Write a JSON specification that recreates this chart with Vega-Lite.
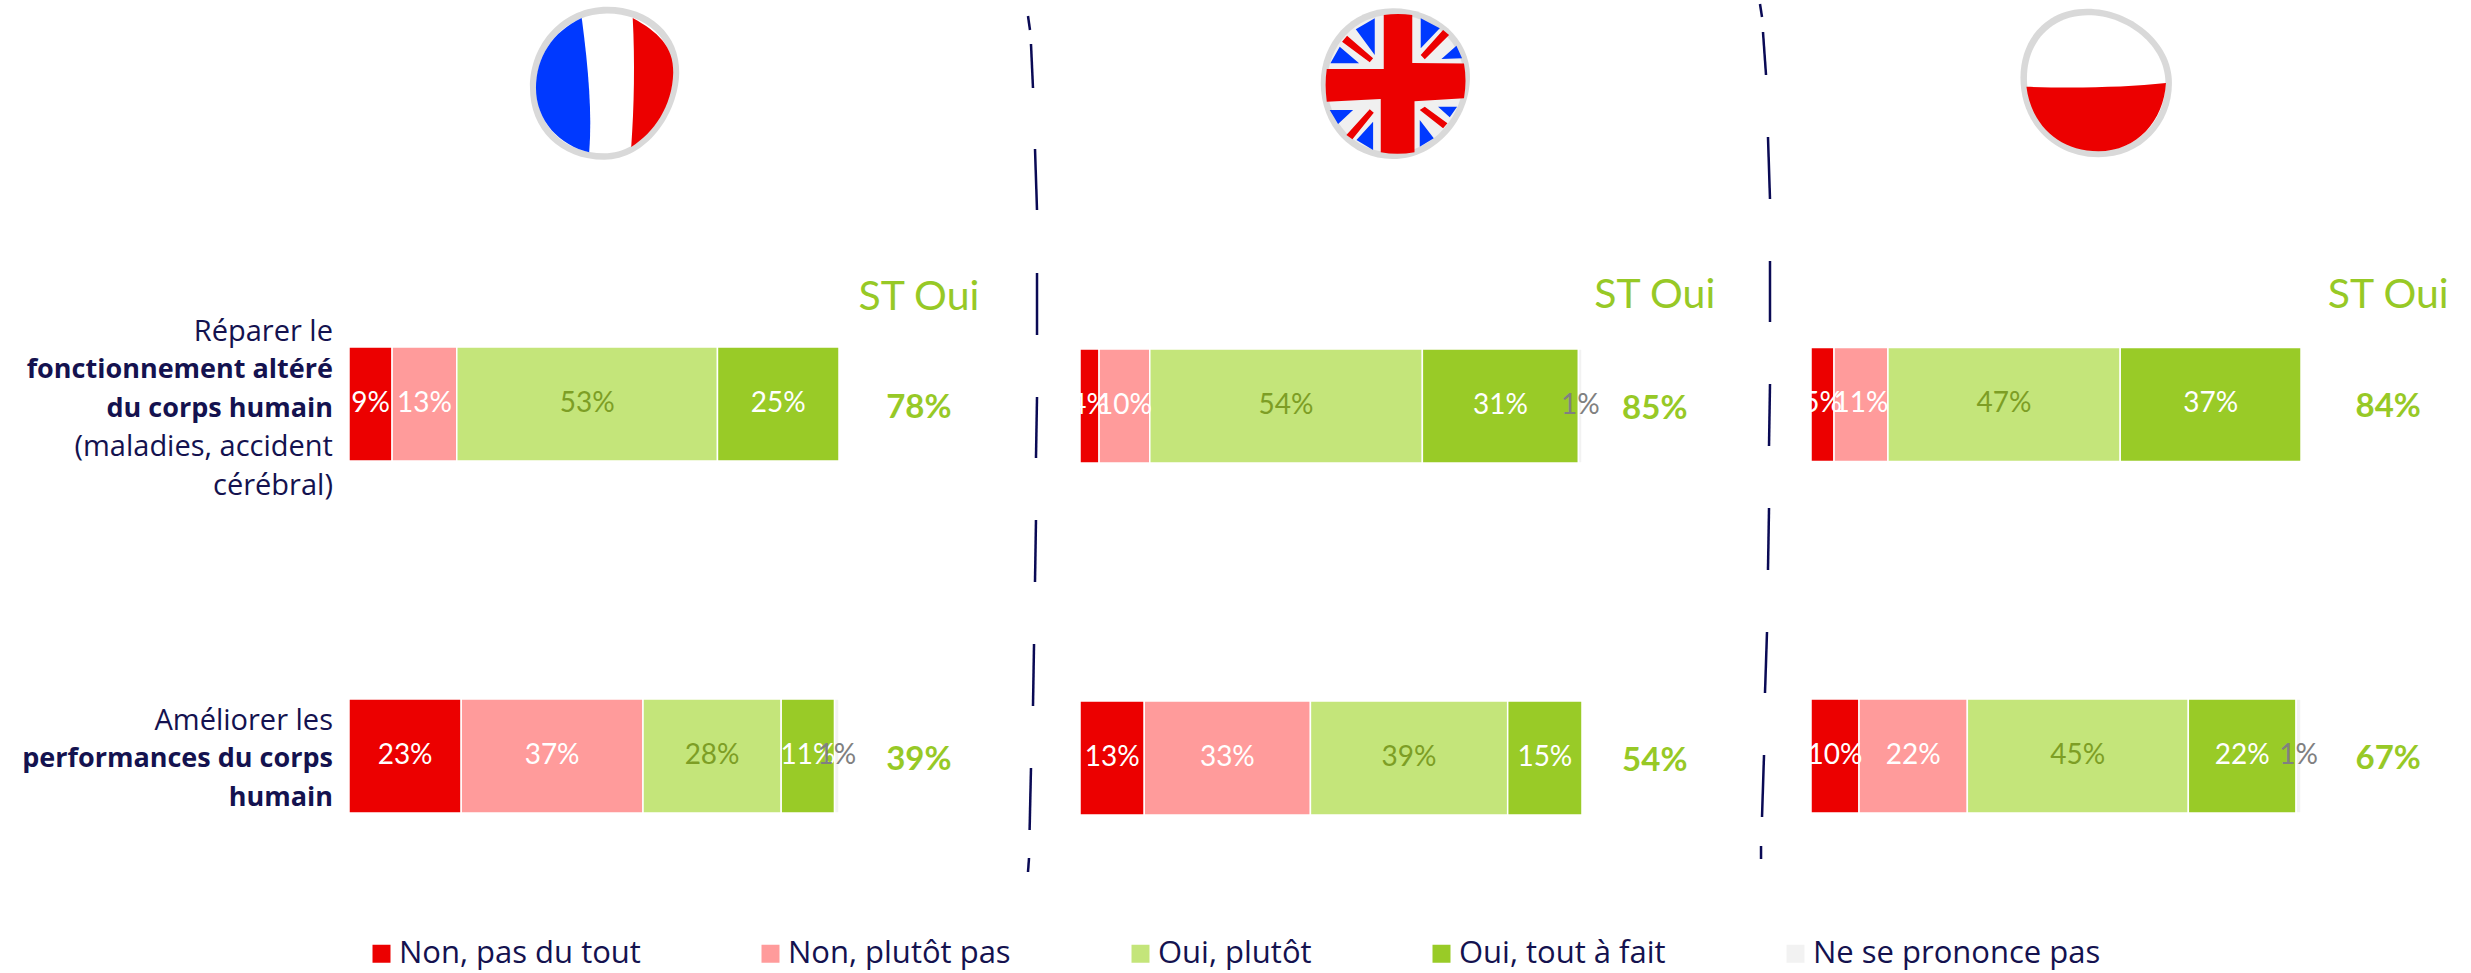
{
"$schema":"https://vega.github.io/schema/vega-lite/v6.json",
"padding":0,"autosize":{"type":"pad"},"spacing":0,"bounds":"flush",
"background":"white",
"config":{"view":{"stroke":null},"axis":{"disable":true},"font":"Lato"},
"datasets":{
"bars":[
{"country":"France","question":"Réparer","category":"Non, pas du tout","rank":1,"value":0.088},
{"country":"France","question":"Réparer","category":"Non, plutôt pas","rank":2,"value":0.132},
{"country":"France","question":"Réparer","category":"Oui, plutôt","rank":3,"value":0.532},
{"country":"France","question":"Réparer","category":"Oui, tout à fait","rank":4,"value":0.248},
{"country":"France","question":"Améliorer","category":"Non, pas du tout","rank":1,"value":0.229},
{"country":"France","question":"Améliorer","category":"Non, plutôt pas","rank":2,"value":0.371},
{"country":"France","question":"Améliorer","category":"Oui, plutôt","rank":3,"value":0.282},
{"country":"France","question":"Améliorer","category":"Oui, tout à fait","rank":4,"value":0.109},
{"country":"France","question":"Améliorer","category":"Ne se prononce pas","rank":5,"value":0.009},
{"country":"UK","question":"Réparer","category":"Non, pas du tout","rank":1,"value":0.038},
{"country":"UK","question":"Réparer","category":"Non, plutôt pas","rank":2,"value":0.101},
{"country":"UK","question":"Réparer","category":"Oui, plutôt","rank":3,"value":0.543},
{"country":"UK","question":"Réparer","category":"Oui, tout à fait","rank":4,"value":0.311},
{"country":"UK","question":"Réparer","category":"Ne se prononce pas","rank":5,"value":0.007},
{"country":"UK","question":"Améliorer","category":"Non, pas du tout","rank":1,"value":0.128},
{"country":"UK","question":"Améliorer","category":"Non, plutôt pas","rank":2,"value":0.331},
{"country":"UK","question":"Améliorer","category":"Oui, plutôt","rank":3,"value":0.393},
{"country":"UK","question":"Améliorer","category":"Oui, tout à fait","rank":4,"value":0.148},
{"country":"Pologne","question":"Réparer","category":"Non, pas du tout","rank":1,"value":0.047},
{"country":"Pologne","question":"Réparer","category":"Non, plutôt pas","rank":2,"value":0.11},
{"country":"Pologne","question":"Réparer","category":"Oui, plutôt","rank":3,"value":0.474},
{"country":"Pologne","question":"Réparer","category":"Oui, tout à fait","rank":4,"value":0.369},
{"country":"Pologne","question":"Améliorer","category":"Non, pas du tout","rank":1,"value":0.098},
{"country":"Pologne","question":"Améliorer","category":"Non, plutôt pas","rank":2,"value":0.221},
{"country":"Pologne","question":"Améliorer","category":"Oui, plutôt","rank":3,"value":0.451},
{"country":"Pologne","question":"Améliorer","category":"Oui, tout à fait","rank":4,"value":0.22},
{"country":"Pologne","question":"Améliorer","category":"Ne se prononce pas","rank":5,"value":0.01}
],
"totals":[
{"country":"France","question":"Réparer","total":0.78},
{"country":"France","question":"Améliorer","total":0.39},
{"country":"UK","question":"Réparer","total":0.85},
{"country":"UK","question":"Améliorer","total":0.54},
{"country":"Pologne","question":"Réparer","total":0.84},
{"country":"Pologne","question":"Améliorer","total":0.67}
],
"sep1":[
{"a":1.3857,"b":1.3898,"top":16,"end":30},
{"a":1.3918,"b":1.3959,"top":44,"end":88},
{"a":1.4,"b":1.4041,"top":149,"end":210},
{"a":1.4041,"b":1.4041,"top":273,"end":335},
{"a":1.4041,"b":1.402,"top":397,"end":458},
{"a":1.402,"b":1.4,"top":520,"end":582},
{"a":1.398,"b":1.3959,"top":644,"end":706},
{"a":1.3918,"b":1.389,"top":768,"end":830},
{"a":1.3878,"b":1.3857,"top":858,"end":872}
],
"sep2":[
{"a":-0.1041,"b":-0.1,"top":4,"end":17},
{"a":-0.098,"b":-0.0918,"top":32,"end":75},
{"a":-0.0878,"b":-0.0837,"top":137,"end":199},
{"a":-0.0837,"b":-0.0837,"top":261,"end":322},
{"a":-0.0837,"b":-0.0857,"top":384,"end":446},
{"a":-0.0857,"b":-0.0878,"top":508,"end":570},
{"a":-0.0898,"b":-0.0939,"top":632,"end":693},
{"a":-0.0959,"b":-0.1,"top":755,"end":817},
{"a":-0.102,"b":-0.102,"top":846,"end":859}
],
"one":[{"n":1}]
},
"resolve":{"scale":{"color":"independent"},"legend":{"color":"independent"}},
"hconcat":[
{"width":1040,"height":973,
 "resolve":{"scale":{"y":"independent"}},
 "layer":[
 {"transform":[{"filter":"datum.country==='France'"}],"data":{"name":"bars"},"layer":[
  {"mark":{"type":"bar","stroke":"white","strokeWidth":1.5},
   "encoding":{
    "x":{"field":"value","type":"quantitative","stack":"zero","axis":null,"scale":{"domain":[-0.7122,1.4102],"nice":false,"zero":false}},
    "y":{"field":"question","type":"nominal","axis":null,"sort":["Réparer","Améliorer"],"scale":{"type":"band","domain":["Réparer","Améliorer"],"range":[347,813],"paddingInner":0.676,"paddingOuter":0}},
    "order":{"field":"rank"},
    "color":{"field":"category","type":"nominal","scale":{"domain":["Non, pas du tout","Non, plutôt pas","Oui, plutôt","Oui, tout à fait","Ne se prononce pas"],"range":["#ec0000","#ff9b9b","#c4e57a","#99cb27","#f2f2f2"]},
     "legend":{"orient":"none","legendX":366,"legendY":938,"direction":"horizontal","columns":5,"title":null,"symbolType":"square","symbolSize":324,"symbolStrokeWidth":0,"labelFont":"Open Sans","labelFontSize":31,"labelColor":"#14124f","labelLimit":400,"labelOffset":2,"columnPadding":114}}
   }},
  {"mark":{"type":"text","fontSize":28},
   "encoding":{
    "x":{"field":"value","type":"quantitative","stack":"zero","bandPosition":0.5},
    "y":{"field":"question","type":"nominal","sort":["Réparer","Améliorer"]},
    "order":{"field":"rank"},"detail":{"field":"category"},
    "text":{"field":"value","type":"quantitative","format":".0%"},
    "color":{"condition":[{"test":"datum.category==='Oui, plutôt'","value":"#7d9e25"},{"test":"datum.category==='Ne se prononce pas'","value":"#808080"}],"value":"white"}
   }},
  {"data":{"name":"totals"},"transform":[{"filter":"datum.country==='France'"}],
   "mark":{"type":"text","fontSize":33,"fontWeight":"bold","color":"#97c926","dy":4},
   "encoding":{"x":{"datum":1.163},"y":{"field":"question","type":"nominal","sort":["Réparer","Améliorer"]},"text":{"field":"total","type":"quantitative","format":".0%"}}}
 ]},
 {"data":{"name":"one"},"layer":[
  {"mark":{"type":"text","text":"ST Oui","fontSize":41,"color":"#97c926"},"encoding":{"x":{"datum":1.163},"y":{"datum":298,"scale":{"domain":[973,0],"nice":false,"zero":false},"axis":null}}},
  {"mark":{"type":"text","text":"Réparer le","fontSize":29,"font":"Open Sans","align":"right","color":"#14124f"},"encoding":{"x":{"datum":-0.0327},"y":{"datum":332}}},
  {"mark":{"type":"text","text":["fonctionnement altéré","du corps humain"],"lineHeight":38.5,"fontSize":27,"font":"Open Sans","fontWeight":"bold","align":"right","color":"#14124f"},"encoding":{"x":{"datum":-0.0327},"y":{"datum":370}}},
  {"mark":{"type":"text","text":["(maladies, accident","cérébral)"],"lineHeight":38.5,"fontSize":29,"font":"Open Sans","align":"right","color":"#14124f"},"encoding":{"x":{"datum":-0.0327},"y":{"datum":447}}},
  {"mark":{"type":"text","text":"Améliorer les","fontSize":29,"font":"Open Sans","align":"right","color":"#14124f"},"encoding":{"x":{"datum":-0.0327},"y":{"datum":721}}},
  {"mark":{"type":"text","text":["performances du corps","humain"],"lineHeight":38.5,"fontSize":27,"font":"Open Sans","fontWeight":"bold","align":"right","color":"#14124f"},"encoding":{"x":{"datum":-0.0327},"y":{"datum":759}}},
  {"mark":{"type":"point","filled":true,"opacity":1,"size":22500,"color":"#d9d9d9","shape":"M0.03,-1.03 C0.6,-1.03 1,-0.65 0.99,-0.15 C0.98,0.4 0.55,1.01 -0.01,1.01 C-0.6,1.01 -1,0.6 -1,0.05 C-1,-0.55 -0.55,-1.03 0.03,-1.03 Z"},"encoding":{"x":{"datum":0.5224},"y":{"datum":84}}},
  {"mark":{"type":"point","filled":true,"opacity":1,"size":18800,"color":"#ffffff","shape":"M0.03,-1.03 C0.6,-1.03 1,-0.65 0.99,-0.15 C0.98,0.4 0.55,1.01 -0.01,1.01 C-0.6,1.01 -1,0.6 -1,0.05 C-1,-0.55 -0.55,-1.03 0.03,-1.03 Z"},"encoding":{"x":{"datum":0.5224},"y":{"datum":84}}},
  {"mark":{"type":"point","filled":true,"opacity":1,"size":22500,"color":"#0039ff","shape":"M-0.31,-0.88 C-0.7,-0.7 -0.92,-0.35 -0.92,0.05 C-0.92,0.5 -0.6,0.82 -0.21,0.91 C-0.17,0.4 -0.22,-0.2 -0.31,-0.88 Z"},"encoding":{"x":{"datum":0.5224},"y":{"datum":84}}},
  {"mark":{"type":"point","filled":true,"opacity":1,"size":22500,"color":"#ec0000","shape":"M0.37,-0.88 C0.7,-0.7 0.92,-0.5 0.91,-0.15 C0.9,0.3 0.65,0.65 0.35,0.84 C0.39,0.3 0.4,-0.3 0.37,-0.88 Z"},"encoding":{"x":{"datum":0.5224},"y":{"datum":84}}}
 ]},
 {"data":{"name":"sep1"},"mark":{"type":"rule","color":"#0a0a55","strokeWidth":2.5},
  "encoding":{"x":{"field":"a","type":"quantitative"},"x2":{"field":"b"},"y":{"field":"top","type":"quantitative","axis":null,"scale":{"domain":[973,0],"nice":false,"zero":false}},"y2":{"field":"end"}}}
 ]},
{"width":710,"height":973,
 "resolve":{"scale":{"y":"independent"}},
 "layer":[
 {"transform":[{"filter":"datum.country==='UK'"}],"data":{"name":"bars"},"layer":[
  {"mark":{"type":"bar","stroke":"white","strokeWidth":1.5},
   "encoding":{
    "x":{"field":"value","type":"quantitative","stack":"zero","axis":null,"scale":{"domain":[-0.0797,1.3347],"nice":false,"zero":false}},
    "y":{"field":"question","type":"nominal","axis":null,"sort":["Réparer","Améliorer"],"scale":{"type":"band","domain":["Réparer","Améliorer"],"range":[349,815],"paddingInner":0.676,"paddingOuter":0}},
    "order":{"field":"rank"},
    "color":{"field":"category","type":"nominal","legend":null,"scale":{"domain":["Non, pas du tout","Non, plutôt pas","Oui, plutôt","Oui, tout à fait","Ne se prononce pas"],"range":["#ec0000","#ff9b9b","#c4e57a","#99cb27","#f2f2f2"]}}
   }},
  {"mark":{"type":"text","fontSize":28},
   "encoding":{
    "x":{"field":"value","type":"quantitative","stack":"zero","bandPosition":0.5},
    "y":{"field":"question","type":"nominal","sort":["Réparer","Améliorer"]},
    "order":{"field":"rank"},"detail":{"field":"category"},
    "text":{"field":"value","type":"quantitative","format":".0%"},
    "color":{"condition":[{"test":"datum.category==='Oui, plutôt'","value":"#7d9e25"},{"test":"datum.category==='Ne se prononce pas'","value":"#808080"}],"value":"white"}
   }},
  {"data":{"name":"totals"},"transform":[{"filter":"datum.country==='UK'"}],
   "mark":{"type":"text","fontSize":33,"fontWeight":"bold","color":"#97c926","dy":3},
   "encoding":{"x":{"datum":1.145},"y":{"field":"question","type":"nominal","sort":["Réparer","Améliorer"]},"text":{"field":"total","type":"quantitative","format":".0%"}}}
 ]},
 {"data":{"name":"one"},"layer":[
  {"mark":{"type":"text","text":"ST Oui","fontSize":41,"color":"#97c926"},"encoding":{"x":{"datum":1.145},"y":{"datum":296,"axis":null,"scale":{"domain":[973,0],"nice":false,"zero":false}}}},
  {"mark":{"type":"point","filled":true,"opacity":1,"size":22500,"color":"#d9d9d9","shape":"M-0.04,-1.01 C0.55,-1.01 0.99,-0.6 0.99,-0.1 C0.99,0.45 0.55,1 -0.04,1 C-0.6,1 -1,0.55 -1,-0.01 C-1,-0.55 -0.6,-1.01 -0.04,-1.01 Z"},"encoding":{"x":{"datum":0.629},"y":{"datum":84}}},
  {"mark":{"type":"point","filled":true,"opacity":1,"size":18800,"color":"#f0f0f0","shape":"M-0.04,-1.01 C0.55,-1.01 0.99,-0.6 0.99,-0.1 C0.99,0.45 0.55,1 -0.04,1 C-0.6,1 -1,0.55 -1,-0.01 C-1,-0.55 -0.6,-1.01 -0.04,-1.01 Z"},"encoding":{"x":{"datum":0.629},"y":{"datum":84}}},
  {"mark":{"type":"point","filled":true,"opacity":1,"size":22500,"color":"#0039ff","shape":"M-0.533,-0.729 L-0.28,-0.876 L-0.28,-0.387 Z M-0.871,-0.276 L-0.747,-0.498 L-0.489,-0.276 Z M0.333,-0.876 L0.587,-0.742 L0.333,-0.476 Z M0.609,-0.333 L0.809,-0.511 L0.884,-0.342 Z M-0.88,0.347 L-0.569,0.347 L-0.769,0.533 Z M-0.524,0.747 L-0.302,0.502 L-0.302,0.88 Z M0.32,0.48 L0.507,0.724 L0.32,0.836 Z M0.564,0.302 L0.818,0.302 L0.72,0.444 Z"},"encoding":{"x":{"datum":0.629},"y":{"datum":84}}},
  {"mark":{"type":"point","filled":true,"opacity":1,"size":22500,"color":"#ec0000","shape":"M-0.716,-0.564 L-0.649,-0.644 L-0.302,-0.342 L-0.347,-0.289 Z M0.333,-0.387 L0.631,-0.72 L0.711,-0.653 L0.387,-0.329 Z M-0.658,0.68 L-0.347,0.338 L-0.293,0.382 L-0.578,0.738 Z M0.32,0.347 L0.387,0.302 L0.689,0.524 L0.631,0.591 Z M-0.16,-0.92 Q0.03,-0.95 0.22,-0.92 L0.22,-0.28 L0.91,-0.275 Q0.95,-0.05 0.91,0.19 L0.25,0.23 L0.25,0.91 Q0.02,0.95 -0.2,0.91 L-0.2,0.2 L-0.92,0.235 Q-0.95,0 -0.92,-0.2 L-0.16,-0.2 Z"},"encoding":{"x":{"datum":0.629},"y":{"datum":84}}}
 ]}
 ]},
{"width":721,"height":973,
 "resolve":{"scale":{"y":"independent"}},
 "layer":[
 {"transform":[{"filter":"datum.country==='Pologne'"}],"data":{"name":"bars"},"layer":[
  {"mark":{"type":"bar","stroke":"white","strokeWidth":1.5},
   "encoding":{
    "x":{"field":"value","type":"quantitative","stack":"zero","axis":null,"scale":{"domain":[-0.1245,1.3469],"nice":false,"zero":false}},
    "y":{"field":"question","type":"nominal","axis":null,"sort":["Réparer","Améliorer"],"scale":{"type":"band","domain":["Réparer","Améliorer"],"range":[347.5,813],"paddingInner":0.676,"paddingOuter":0}},
    "order":{"field":"rank"},
    "color":{"field":"category","type":"nominal","legend":null,"scale":{"domain":["Non, pas du tout","Non, plutôt pas","Oui, plutôt","Oui, tout à fait","Ne se prononce pas"],"range":["#ec0000","#ff9b9b","#c4e57a","#99cb27","#f2f2f2"]}}
   }},
  {"mark":{"type":"text","fontSize":28},
   "encoding":{
    "x":{"field":"value","type":"quantitative","stack":"zero","bandPosition":0.5},
    "y":{"field":"question","type":"nominal","sort":["Réparer","Améliorer"]},
    "order":{"field":"rank"},"detail":{"field":"category"},
    "text":{"field":"value","type":"quantitative","format":".0%"},
    "color":{"condition":[{"test":"datum.category==='Oui, plutôt'","value":"#7d9e25"},{"test":"datum.category==='Ne se prononce pas'","value":"#808080"}],"value":"white"}
   }},
  {"data":{"name":"totals"},"transform":[{"filter":"datum.country==='Pologne'"}],
   "mark":{"type":"text","fontSize":33,"fontWeight":"bold","color":"#97c926","dy":3},
   "encoding":{"x":{"datum":1.178},"y":{"field":"question","type":"nominal","sort":["Réparer","Améliorer"]},"text":{"field":"total","type":"quantitative","format":".0%"}}}
 ]},
 {"data":{"name":"one"},"layer":[
  {"mark":{"type":"text","text":"ST Oui","fontSize":41,"color":"#97c926"},"encoding":{"x":{"datum":1.178},"y":{"datum":296,"axis":null,"scale":{"domain":[973,0],"nice":false,"zero":false}}}},
  {"mark":{"type":"point","filled":true,"opacity":1,"size":22500,"color":"#d9d9d9","shape":"M-0.12,-0.99 C0.45,-0.99 1.01,-0.55 1.01,0 C1.01,0.55 0.6,0.99 0.03,0.99 C-0.55,0.99 -1.01,0.55 -1.01,-0.07 C-1.01,-0.6 -0.65,-0.99 -0.12,-0.99 Z"},"encoding":{"x":{"datum":0.582},"y":{"datum":83}}},
  {"mark":{"type":"point","filled":true,"opacity":1,"size":18800,"color":"#ffffff","shape":"M-0.12,-0.99 C0.45,-0.99 1.01,-0.55 1.01,0 C1.01,0.55 0.6,0.99 0.03,0.99 C-0.55,0.99 -1.01,0.55 -1.01,-0.07 C-1.01,-0.6 -0.65,-0.99 -0.12,-0.99 Z"},"encoding":{"x":{"datum":0.582},"y":{"datum":83}}},
  {"mark":{"type":"point","filled":true,"opacity":1,"size":22500,"color":"#ec0000","shape":"M-0.93,0.05 C-0.3,0.07 0.4,0.06 0.93,0 C0.9,0.5 0.55,0.91 0.03,0.91 C-0.5,0.91 -0.87,0.55 -0.93,0.05 Z"},"encoding":{"x":{"datum":0.582},"y":{"datum":83}}}
 ]},
 {"data":{"name":"sep2"},"mark":{"type":"rule","color":"#0a0a55","strokeWidth":2.5},
  "encoding":{"x":{"field":"a","type":"quantitative"},"x2":{"field":"b"},"y":{"field":"top","type":"quantitative","axis":null,"scale":{"domain":[973,0],"nice":false,"zero":false}},"y2":{"field":"end"}}}
 ]}
]
}
